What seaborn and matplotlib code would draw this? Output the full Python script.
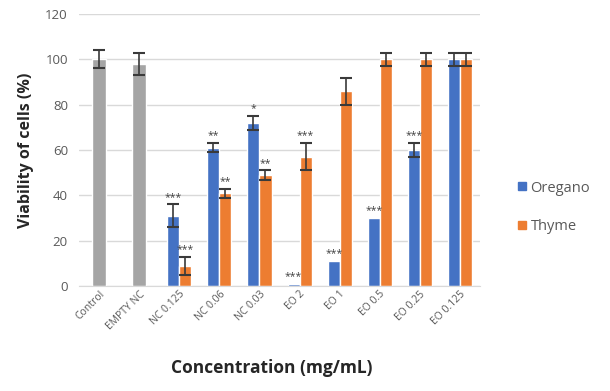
import numpy as np
import pandas as pd
import seaborn as sns
import matplotlib.pyplot as plt
from matplotlib.colors import to_hex
from matplotlib.lines import Line2D

# values
categories = ["Control", "EMPTY NC", "NC 0.125", "NC 0.06", "NC 0.03",
              "EO 2", "EO 1", "EO 0.5", "EO 0.25", "EO 0.125"]
control_vals = [100, 98, np.nan, np.nan, np.nan, np.nan, np.nan, np.nan, np.nan, np.nan]
control_err = [4, 5, 0, 0, 0, 0, 0, 0, 0, 0]
oregano_vals = [np.nan, np.nan, 31, 61, 72, 1, 11, 30, 60, 100]
oregano_err = [0, 0, 5, 2, 3, 0, 0, 0, 3, 3]
thyme_vals = [np.nan, np.nan, 9, 41, 49, 57, 86, 100, 100, 100]
thyme_err = [0, 0, 4, 2, 2, 6, 6, 3, 3, 3]
oregano_sig = ["", "", "***", "**", "*", "***", "***", "***", "***", ""]
thyme_sig = ["", "", "***", "**", "**", "***", "", "", "", ""]

blue = "#4472C4"
orange = "#ED7D31"
gray = "#A5A5A5"
text_gray = "#595959"

sns.set_style("white")
plt.rcParams["font.family"] = ["Open Sans", "DejaVu Sans"]

df = pd.DataFrame({
    "Concentration": categories * 2,
    "Oil": ["Oregano"] * len(categories) + ["Thyme"] * len(categories),
    "Viability": oregano_vals + thyme_vals,
})
ctrl = pd.DataFrame({"Concentration": categories, "Viability": control_vals})

fig = plt.figure(figsize=(6.1, 3.91), dpi=100)
ax = fig.add_axes([0.1295, 0.2685, 0.6575, 0.6955])

sns.barplot(data=df, x="Concentration", y="Viability", hue="Oil", order=categories,
            hue_order=["Oregano", "Thyme"], palette=[blue, orange], width=0.6,
            errorbar=None, legend=False, ax=ax, saturation=1)
sns.barplot(data=ctrl, x="Concentration", y="Viability", order=categories, color=gray,
            width=0.36, errorbar=None, ax=ax, saturation=1)

# find the drawn bar for each (colour, category) pair
bar_at = {}
for p in ax.patches:
    xc = p.get_x() + p.get_width() / 2
    bar_at[(to_hex(p.get_facecolor()).upper(), int(round(xc)))] = xc

err_kw = dict(fmt="none", ecolor="#3a3a3a", elinewidth=1.2, capsize=4.5, capthick=1.5, zorder=5)
star_kw = dict(ha="center", va="bottom", fontsize=7.5, color="#404040", zorder=6)

for col, vals, errs, sigs in [(blue, oregano_vals, oregano_err, oregano_sig),
                              (orange, thyme_vals, thyme_err, thyme_sig),
                              (gray, control_vals, control_err, [""] * len(categories))]:
    for i, (v, e, s) in enumerate(zip(vals, errs, sigs)):
        if np.isnan(v) or (col, i) not in bar_at:
            continue
        xc = bar_at[(col, i)]
        if e > 0:
            ax.errorbar(xc, v, yerr=e, **err_kw)
        if s:
            ax.text(xc, v + e + 0.8, s, **star_kw)

ax.set_ylim(0, 120)
ax.set_yticks(range(0, 121, 20))
ax.set_xlim(-0.5, len(categories) - 0.5)
ax.yaxis.grid(True, color="#D9D9D9", linewidth=1)
ax.set_axisbelow(True)
for side in ["top", "right", "left"]:
    ax.spines[side].set_visible(False)
ax.spines["bottom"].set_color("#D9D9D9")
ax.tick_params(axis="y", length=0, labelsize=9.5, labelcolor=text_gray, pad=8)
ax.tick_params(axis="x", length=0, labelsize=7.5, labelcolor=text_gray, pad=2)
plt.setp(ax.get_xticklabels(), rotation=45, ha="right", rotation_mode="anchor")

ax.set_ylabel("Viability of cells (%)", fontsize=11.5, fontweight="bold", color="#262626", labelpad=8)
ax.set_xlabel("Concentration (mg/mL)", fontsize=12.5, fontweight="bold", color="#262626", labelpad=28)
ax.xaxis.set_label_coords(0.48, -0.27)

handles = [Line2D([], [], marker="s", linestyle="none", markersize=6, color=c) for c in [blue, orange]]
fig.legend(handles, ["Oregano", "Thyme"], loc="center left", bbox_to_anchor=(0.848, 0.47),
           frameon=False, fontsize=10.5, labelcolor=text_gray, handlelength=0.7,
           handletextpad=0.2, labelspacing=1.6, borderpad=0, borderaxespad=0)

fig.savefig("out.png", dpi=100)
